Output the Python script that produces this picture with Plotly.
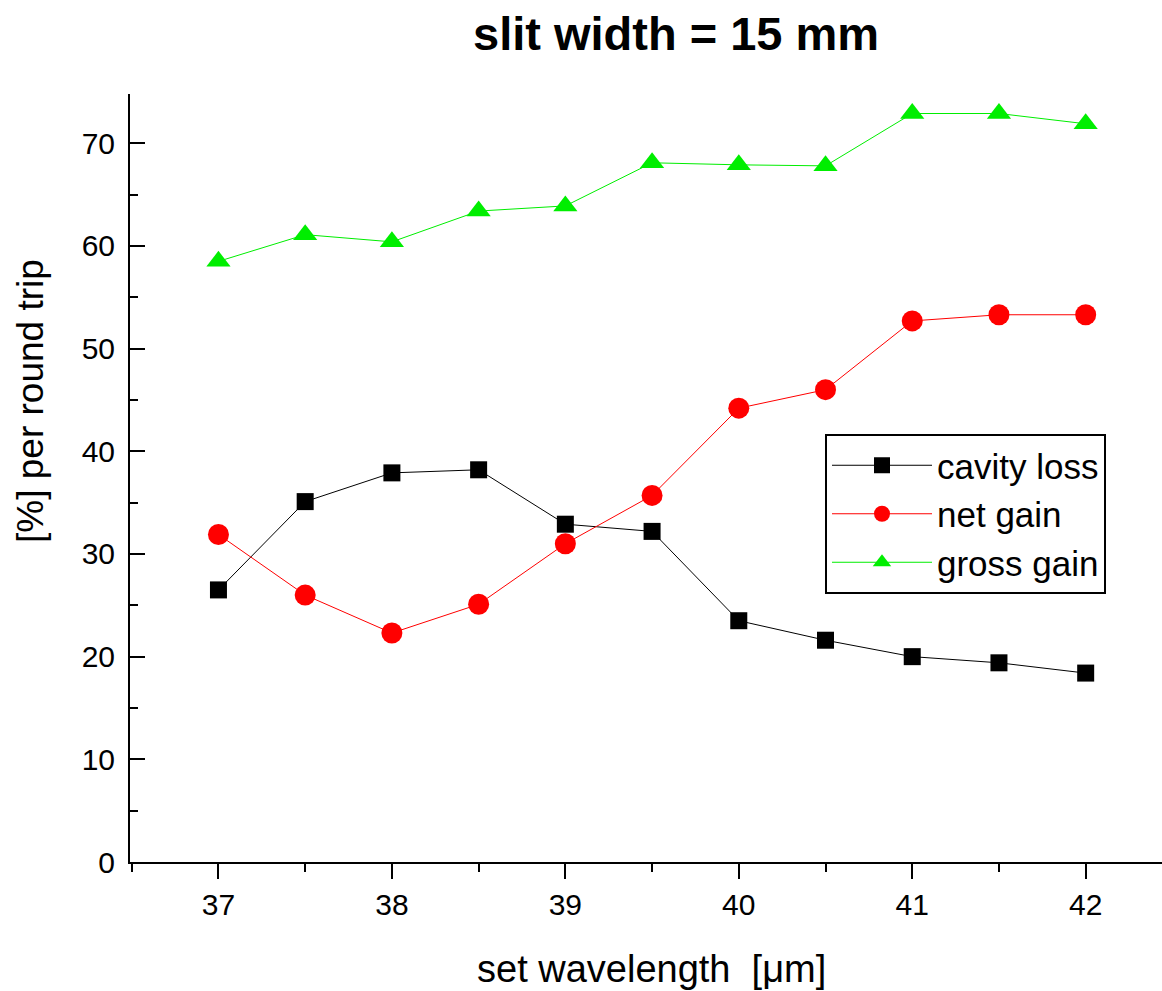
import plotly.graph_objects as go

# set wavelength in micrometres
wavelength = [37, 37.5, 38, 38.5, 39, 39.5, 40, 40.5, 41, 41.5, 42]

# round-trip percentages
cavity_loss = [26.5, 35.1, 37.9, 38.2, 32.9, 32.2, 23.5, 21.6, 20.0, 19.4, 18.4]
net_gain = [31.9, 26.0, 22.3, 25.1, 31.0, 35.7, 44.2, 46.0, 52.7, 53.3, 53.3]
gross_gain = [58.5, 61.1, 60.4, 63.4, 63.9, 68.1, 67.9, 67.8, 72.9, 72.9, 71.9]

x_ticks = [37, 38, 39, 40, 41, 42]
y_ticks = [0, 10, 20, 30, 40, 50, 60, 70]

FONT = "Liberation Sans, Arial, sans-serif"
W, H = 1162, 991
ML, MR, MT, MB = 130, 0, 94, 129
PW, PH = W - ML - MR, H - MT - MB


def px_to_paper(px, py):
    """Convert page pixel coordinates to plot-area paper fractions."""
    return (px - ML) / PW, (H - MB - py) / PH


fig = go.Figure()
fig.add_trace(go.Scatter(
    x=wavelength, y=cavity_loss, name="cavity loss", mode="lines+markers",
    line=dict(color="black", width=1),
    marker=dict(symbol="square", size=17, color="black"),
))
fig.add_trace(go.Scatter(
    x=wavelength, y=net_gain, name="net gain", mode="lines+markers",
    line=dict(color="#ff0000", width=1),
    marker=dict(symbol="circle", size=21, color="#ff0000"),
))
fig.add_trace(go.Scatter(
    x=wavelength, y=gross_gain, name="gross gain", mode="lines+markers",
    line=dict(color="#00ee00", width=1),
    marker=dict(symbol="triangle-up", size=21, color="#00ee00"),
))

lx, ly = px_to_paper(825, 434)
tx, ty = px_to_paper(676, 33)
xx, xy = px_to_paper(651, 969)
yx, yy = px_to_paper(30, 401)

fig.update_layout(
    width=W, height=H,
    margin=dict(l=ML, r=MR, t=MT, b=MB),
    paper_bgcolor="white", plot_bgcolor="white",
    font=dict(family=FONT, color="black"),
    showlegend=True,
    legend=dict(
        x=lx, y=ly, xref="paper", yref="paper",
        xanchor="left", yanchor="top",
        bordercolor="black", borderwidth=2, bgcolor="white",
        font=dict(size=35, family=FONT), itemwidth=100,
        tracegroupgap=0,
    ),
    annotations=[
        dict(text="<b>slit width = 15 mm</b>", x=tx, y=ty, xref="paper", yref="paper",
             xanchor="center", yanchor="middle",
             showarrow=False, font=dict(size=47, family=FONT)),
        dict(text="set wavelength  [μm]", x=xx, y=xy, xref="paper", yref="paper",
             xanchor="center", yanchor="middle",
             showarrow=False, font=dict(size=38, family=FONT)),
        dict(text="[%] per round trip", x=yx, y=yy, xref="paper", yref="paper",
             xanchor="center", yanchor="middle",
             showarrow=False, textangle=-90, font=dict(size=37, family=FONT)),
    ],
)

fig.update_xaxes(
    range=[36.49, 42.44], tickvals=x_ticks, ticks="outside", ticklen=15, tickwidth=2,
    tickcolor="black", showline=True, linecolor="black", linewidth=2,
    showgrid=False, zeroline=False, tickfont=dict(size=30, family=FONT),
    minor=dict(dtick=0.5, tick0=36.5, ticks="outside", ticklen=8, tickwidth=2, tickcolor="black"),
)
fig.update_yaxes(
    range=[0, 74.8], tickvals=y_ticks, ticks="inside", ticklen=15, tickwidth=2,
    tickcolor="black", showline=True, linecolor="black", linewidth=2,
    showgrid=False, zeroline=False, tickfont=dict(size=30, family=FONT),
    ticklabelstandoff=7,
    minor=dict(dtick=5, tick0=0, ticks="inside", ticklen=8, tickwidth=2, tickcolor="black"),
)

fig.write_html("out.html")
